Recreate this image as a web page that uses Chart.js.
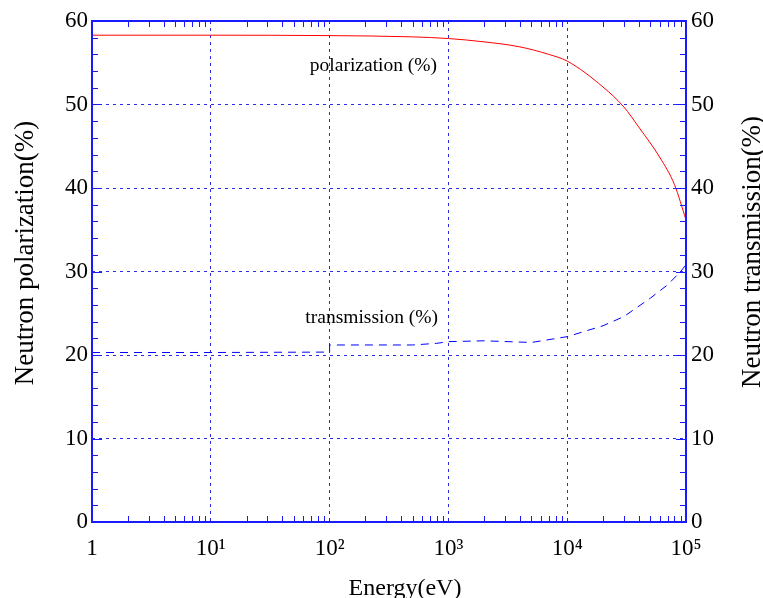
<!DOCTYPE html>
<html><head><meta charset="utf-8">
<script src="https://cdn.jsdelivr.net/npm/chart.js@4"></script>
<style>html,body{margin:0;padding:0;background:#fff}</style>
</head><body>
<canvas id="c" width="763" height="598"></canvas>
<script>
// ---- data ----
const energyPol = [1, 10, 100, 500, 1000, 2000, 4000, 7000, 10000, 20000, 30000, 40000, 60000, 80000, 100000];
const polarization = [58.3, 58.3, 58.25, 58.1, 57.9, 57.5, 56.9, 56.0, 55.2, 52.1, 49.7, 47.3, 43.7, 40.4, 36.2];
const energyTrans = [1, 10, 100, 100, 500, 800, 1000, 2000, 5000, 10000, 20000, 30000, 50000, 70000, 90000, 100000];
const transmission = [20.3, 20.3, 20.35, 21.2, 21.2, 21.4, 21.6, 21.7, 21.5, 22.2, 23.5, 24.6, 26.8, 28.4, 30.0, 30.8];
const xTicks = [1, 10, 100, 1000, 10000, 100000];
const xTickLabels = ['1', '10\u00B9', '10\u00B2', '10\u00B3', '10\u2074', '10\u2075'];
const yTicks = [0, 10, 20, 30, 40, 50, 60];
const noteTexts = ['polarization (%)', 'transmission (%)'];
const noteX = [234, 226];
const noteY = [54.6, 24.4];
const xTitle = 'Energy(eV)';
const yTitle = 'Neutron polarization(%)';
const y2Title = 'Neutron transmission(%)';

const BLUE = '#1a1aff';
const GRID = '#2a2ae6';
const SERIF = '"Liberation Serif", "Times New Roman", serif';

const decorations = {
  id: 'decorations',
  afterDraw(chart) {
    const ctx = chart.ctx, a = chart.chartArea;
    const xs = chart.scales.x, ys = chart.scales.y;
    ctx.save();
    ctx.strokeStyle = BLUE;
    ctx.lineWidth = 1;
    ctx.setLineDash([]);
    ctx.beginPath();
    // minor x ticks (2..9 x 10^k), inward on top and bottom
    for (let k = 0; k < 5; k++) {
      for (let m = 2; m <= 9; m++) {
        const px = Math.round(xs.getPixelForValue(m * Math.pow(10, k))) + 0.5;
        ctx.moveTo(px, a.bottom); ctx.lineTo(px, a.bottom - 6);
        ctx.moveTo(px, a.top); ctx.lineTo(px, a.top + 6);
      }
    }
    // minor y ticks every 2 units, inward on left and right
    for (let v = 2; v < 60; v += 2) {
      if (v % 10 === 0) continue;
      const py = Math.round(ys.getPixelForValue(v)) + 0.5;
      ctx.moveTo(a.left, py); ctx.lineTo(a.left + 6, py);
      ctx.moveTo(a.right, py); ctx.lineTo(a.right - 6, py);
    }
    // major y ticks (short solid)
    for (const v of yTicks) {
      const py = Math.round(ys.getPixelForValue(v)) + 0.5;
      ctx.moveTo(a.left, py); ctx.lineTo(a.left + 10, py);
      ctx.moveTo(a.right, py); ctx.lineTo(a.right - 10, py);
    }
    ctx.stroke();
    // frame
    ctx.lineWidth = 2;
    ctx.strokeRect(a.left, a.top, a.right - a.left, a.bottom - a.top);
    // notes inside the plot
    ctx.fillStyle = '#000';
    ctx.font = '19.5px ' + SERIF;
    ctx.textAlign = 'center';
    ctx.textBaseline = 'middle';
    for (let i = 0; i < noteTexts.length; i++) {
      ctx.fillText(noteTexts[i], xs.getPixelForValue(noteX[i]), ys.getPixelForValue(noteY[i]));
    }
    // axis titles
    ctx.textBaseline = 'alphabetic';
    ctx.font = '24px ' + SERIF;
    ctx.fillText(xTitle, 405, 595);
    ctx.font = '27px ' + SERIF;
    ctx.save();
    ctx.translate(33, 253);
    ctx.rotate(-Math.PI / 2);
    ctx.fillText(yTitle, 0, 0);
    ctx.restore();
    ctx.save();
    ctx.translate(760, 252);
    ctx.rotate(-Math.PI / 2);
    ctx.fillText(y2Title, 0, 0);
    ctx.restore();
    ctx.restore();
  }
};

const tickFont = { family: SERIF, size: 23 };

new Chart(document.getElementById('c'), {
  type: 'line',
  data: {
    datasets: [
      {
        label: 'polarization (%)',
        data: energyPol.map((e, i) => ({ x: e, y: polarization[i] })),
        yAxisID: 'y',
        borderColor: '#ff0000',
        borderWidth: 1,
        pointRadius: 0,
        cubicInterpolationMode: 'monotone',
        fill: false
      },
      {
        label: 'transmission (%)',
        data: energyTrans.map((e, i) => ({ x: e, y: transmission[i] })),
        yAxisID: 'y2',
        borderColor: '#0000ff',
        borderWidth: 1,
        borderDash: [8, 6],
        pointRadius: 0,
        tension: 0,
        fill: false
      }
    ]
  },
  options: {
    responsive: false,
    animation: false,
    devicePixelRatio: 1,
    layout: { padding: { top: 21, left: 0, right: 0, bottom: 0 } },
    plugins: { legend: { display: false }, tooltip: { enabled: false } },
    scales: {
      x: {
        type: 'logarithmic',
        position: 'bottom',
        min: 1, max: 100000,
        afterBuildTicks: s => { s.ticks = xTicks.map(v => ({ value: v })); },
        afterFit: s => { s.height = 76; },
        ticks: {
          autoSkip: false, maxRotation: 0, minRotation: 0, padding: 13,
          color: '#000', font: tickFont,
          callback: v => { const i = xTicks.indexOf(v); return i >= 0 ? xTickLabels[i] : ''; }
        },
        grid: {
          drawTicks: false, lineWidth: 1,
          color: c => (c.tick && (c.tick.value === 1 || c.tick.value === 100000)) ? 'rgba(0,0,0,0)' : GRID
        },
        border: { display: false, dash: [3, 4] },
        title: { display: false }
      },
      y: {
        position: 'left',
        min: 0, max: 60,
        afterBuildTicks: s => { s.ticks = yTicks.map(v => ({ value: v })); },
        afterFit: s => { s.width = 92; },
        ticks: { padding: 4, color: '#000', font: tickFont },
        grid: {
          drawTicks: false, lineWidth: 1,
          color: c => (c.tick && (c.tick.value === 0 || c.tick.value === 60)) ? 'rgba(0,0,0,0)' : GRID
        },
        border: { display: false, dash: [3, 4] },
        title: { display: false }
      },
      y2: {
        position: 'right',
        min: 0, max: 60,
        afterBuildTicks: s => { s.ticks = yTicks.map(v => ({ value: v })); },
        afterFit: s => { s.width = 77; },
        ticks: { padding: 5, color: '#000', font: tickFont },
        grid: { drawOnChartArea: false, drawTicks: false },
        border: { display: false },
        title: { display: false }
      }
    }
  },
  plugins: [decorations]
});
</script>
</body></html>
